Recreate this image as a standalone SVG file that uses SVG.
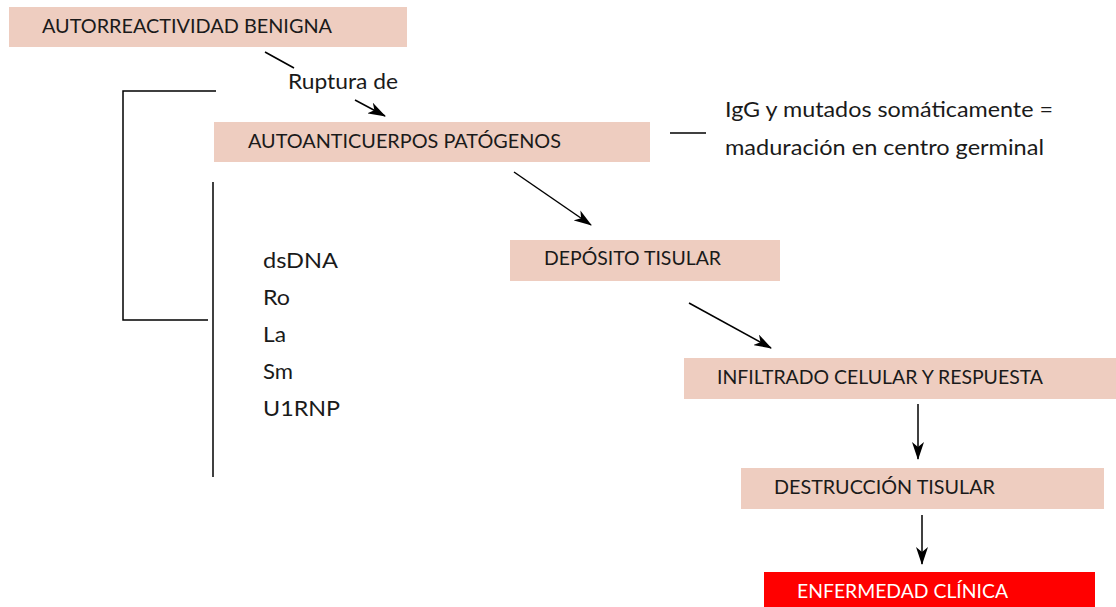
<svg xmlns="http://www.w3.org/2000/svg" width="1116" height="607" viewBox="0 0 1116 607">
<defs>
<marker id="ah" viewBox="0 0 18 12" refX="17" refY="6" markerWidth="18" markerHeight="12" markerUnits="userSpaceOnUse" orient="auto">
<path d="M0,0 L18,6 L0,12 L5,6 Z" fill="#000"/>
</marker>
<style>
.box{fill:#EECDC0}
.lbl{font-family:"Lato","Liberation Sans",sans-serif;font-size:20px;fill:#1a1a1a}
.txt{font-family:"Lato","Liberation Sans",sans-serif;font-size:22px;fill:#1a1a1a}
.lst{font-family:"Lato","Liberation Sans",sans-serif;font-size:21px;fill:#1a1a1a}
.ln{stroke:#000;stroke-width:1.5;fill:none}
.arr{stroke:#000;stroke-width:1.5;fill:none;marker-end:url(#ah)}
</style>
</defs>
<rect width="1116" height="607" fill="#fff"/>
<g id="n-benigna">
<rect class="box" x="9" y="7" width="398" height="40"/>
<text class="lbl" x="42" y="33" textLength="290" lengthAdjust="spacingAndGlyphs">AUTORREACTIVIDAD BENIGNA</text>
</g>
<g id="n-ruptura">
<text class="txt" x="288" y="89" textLength="110" lengthAdjust="spacingAndGlyphs">Ruptura de</text>
</g>
<g id="n-autoanticuerpos">
<rect class="box" x="214" y="122" width="436" height="40"/>
<text class="lbl" x="248" y="148" textLength="313" lengthAdjust="spacingAndGlyphs">AUTOANTICUERPOS PATÓGENOS</text>
</g>
<g id="n-igg">
<text class="txt" x="725" y="117" textLength="328" lengthAdjust="spacingAndGlyphs">IgG y mutados somáticamente =</text>
<text class="txt" x="725" y="155" textLength="319" lengthAdjust="spacingAndGlyphs">maduración en centro germinal</text>
</g>
<g id="n-antigenos">
<text class="lst" x="263" y="268" textLength="75" lengthAdjust="spacingAndGlyphs">dsDNA</text>
<text class="lst" x="263" y="305" textLength="27" lengthAdjust="spacingAndGlyphs">Ro</text>
<text class="lst" x="263" y="342" textLength="23" lengthAdjust="spacingAndGlyphs">La</text>
<text class="lst" x="263" y="379" textLength="30" lengthAdjust="spacingAndGlyphs">Sm</text>
<text class="lst" x="263" y="416" textLength="77" lengthAdjust="spacingAndGlyphs">U1RNP</text>
</g>
<g id="n-deposito">
<rect class="box" x="510" y="240" width="270" height="41"/>
<text class="lbl" x="544" y="265" textLength="177" lengthAdjust="spacingAndGlyphs">DEPÓSITO TISULAR</text>
</g>
<g id="n-infiltrado">
<rect class="box" x="684" y="358" width="432" height="41"/>
<text class="lbl" x="717" y="384" textLength="326" lengthAdjust="spacingAndGlyphs">INFILTRADO CELULAR Y RESPUESTA</text>
</g>
<g id="n-destruccion">
<rect class="box" x="741" y="468" width="363" height="41"/>
<text class="lbl" x="774" y="494" textLength="221" lengthAdjust="spacingAndGlyphs">DESTRUCCIÓN TISULAR</text>
</g>
<g id="n-enfermedad">
<rect x="764" y="572" width="331" height="35" fill="#FF0000"/>
<text class="lbl" x="797" y="598" textLength="211" lengthAdjust="spacingAndGlyphs" style="fill:#fff">ENFERMEDAD CLÍNICA</text>
</g>
<g id="connectors">
<line class="ln" x1="265" y1="52" x2="294" y2="68"/>
<line class="arr" x1="355" y1="100" x2="385" y2="116"/>
<polyline class="ln" points="216,91 123,91 123,320 208,320"/>
<line class="ln" x1="213" y1="182" x2="213" y2="477"/>
<line class="ln" x1="670" y1="133" x2="706" y2="133"/>
<line class="arr" x1="514" y1="172" x2="591" y2="225"/>
<line class="arr" x1="689" y1="303" x2="771" y2="348"/>
<line class="arr" x1="918" y1="404" x2="918" y2="459"/>
<line class="arr" x1="922" y1="515" x2="922" y2="564"/>
</g>
</svg>
